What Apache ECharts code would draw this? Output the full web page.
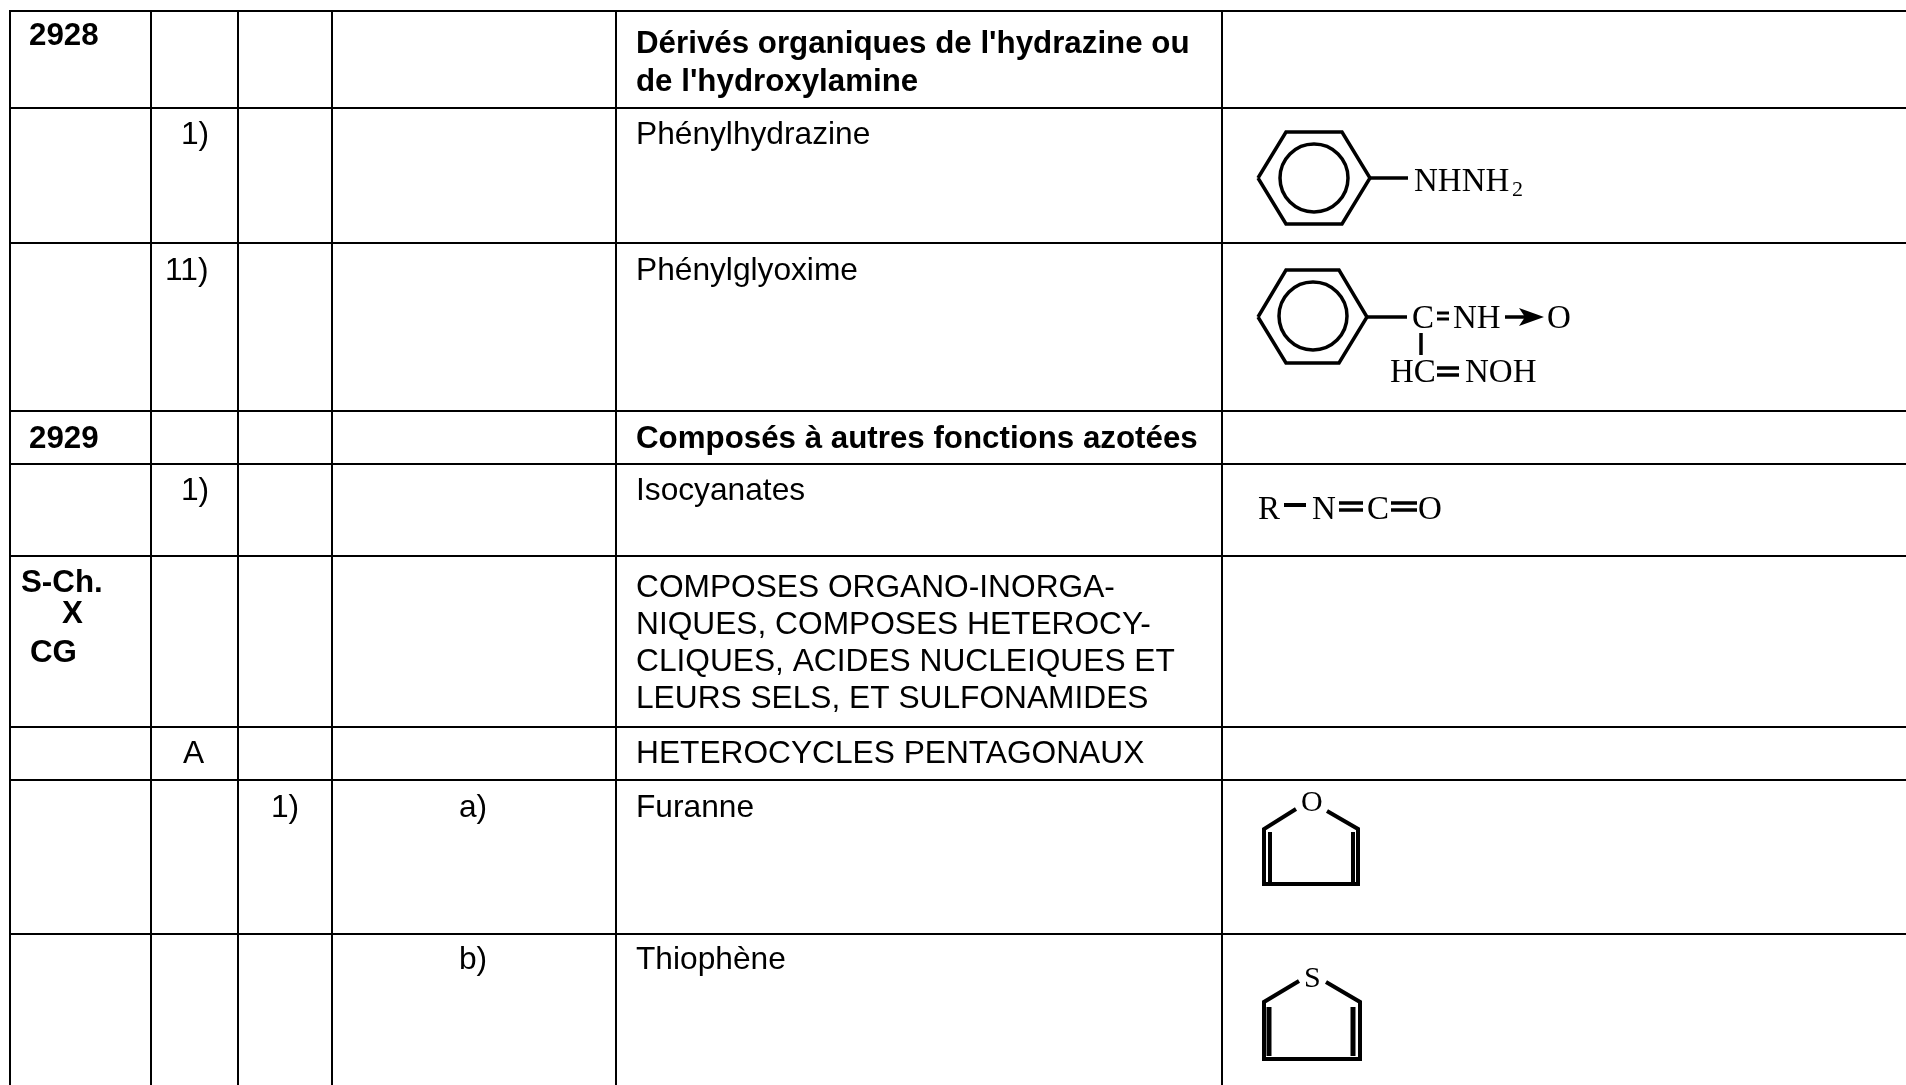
<!DOCTYPE html>
<html>
<head>
<meta charset="utf-8">
<title>2928 - 2929</title>
<script src="https://cdn.jsdelivr.net/npm/echarts@6/dist/echarts.min.js"></script>
<style>
html, body { margin: 0; padding: 0; background: #fff; }
#main { width: 1906px; height: 1085px; }
</style>
</head>
<body>
<div id="main"></div>
<script>
// table edges
var columnEdges = [10, 151, 238, 332, 616, 1222];
var rowEdges = [11, 108, 243, 411, 464, 556, 727, 780, 934];

// one entry per table row
var codes = ['2928', '', '', '2929', '', 'S-Ch.|X|CG', '', '', ''];
var levelOne = ['', '1)', '11)', '', '1)', '', 'A', '', ''];
var levelTwo = ['', '', '', '', '', '', '', '1)', ''];
var levelThree = ['', '', '', '', '', '', '', 'a)', 'b)'];
var names = [
    "Dérivés organiques de l'hydrazine ou|de l'hydroxylamine",
    'Phénylhydrazine',
    'Phénylglyoxime',
    'Composés à autres fonctions azotées',
    'Isocyanates',
    'COMPOSES ORGANO-INORGA-|NIQUES, COMPOSES HETEROCY-|CLIQUES, ACIDES NUCLEIQUES ET|LEURS SELS, ET SULFONAMIDES',
    'HETEROCYCLES PENTAGONAUX',
    'Furanne',
    'Thiophène'
];
var boldNames = [true, false, false, true, false, false, false, false, false];

var xMax = 1906, yMax = 1085;
var sansFont = '"Liberation Sans", Arial, sans-serif';
var serifFont = '"Liberation Serif", "Times New Roman", serif';

// ---- rules
var rules = [];
columnEdges.forEach(function (x) { rules.push([x, rowEdges[0] - 1, x, yMax]); });
rowEdges.forEach(function (y) { rules.push([columnEdges[0] - 1, y, xMax, y]); });

// ---- table text
var labels = [];
function addLabel(text, x, y, bold) {
    labels.push({ text: text, x: x, y: y, font: (bold ? 'bold 31.3px ' : '31.7px ') + sansFont });
}
function addSerif(text, x, y, size) {
    labels.push({ text: text, x: x, y: y, font: size + 'px ' + serifFont });
}
var codeX = [29, 0, 0, 29];
var levelOneX = [0, 181, 165, 0, 181, 0, 183];
var rowOffset = [25, 27, 28, 28, 27, 32, 27, 28, 26];
rowEdges.forEach(function (top, i) {
    var y = top + rowOffset[i];
    if (i === 5) {
        var parts = codes[i].split('|');
        addLabel(parts[0], 21, 583, true);
        addLabel(parts[1], 62, 614, true);
        addLabel(parts[2], 30, 653, true);
    } else if (codes[i]) {
        addLabel(codes[i], codeX[i], y, true);
    }
    if (levelOne[i]) addLabel(levelOne[i], levelOneX[i], y, false);
    if (levelTwo[i]) addLabel(levelTwo[i], 271, y, false);
    if (levelThree[i]) addLabel(levelThree[i], 459, y, false);
    var firstLine = i === 0 ? 44 : y;
    names[i].split('|').forEach(function (line, k) {
        addLabel(line, 636, firstLine + k * (i === 5 ? 37 : 38), boldNames[i]);
    });
});

// ---- formulas
addSerif('NHNH', 1414, 182, 33);
addSerif('2', 1512, 190, 22);
addSerif('C', 1412, 319, 33);
addSerif('NH', 1453, 319, 33);
addSerif('O', 1547, 319, 33);
addSerif('HC', 1390, 373, 33);
addSerif('NOH', 1465, 373, 33);
addSerif('R', 1258, 510, 33);
addSerif('N', 1312, 510, 33);
addSerif('C', 1367, 510, 33);
addSerif('O', 1418, 510, 33);
labels.push({ text: 'O', x: 1301, y: 803, font: '30px ' + serifFont });
labels.push({ text: 'S', x: 1304, y: 979, font: '30px ' + serifFont });

// bonds: points then stroke width
var bonds = [
    // phenylhydrazine
    { w: 3.5, pts: [[1258, 178], [1286, 132], [1342, 132], [1370, 178], [1342, 224], [1286, 224], [1258, 178]] },
    { w: 3.5, pts: [[1370, 178], [1408, 178]] },
    // phenylglyoxime
    { w: 3.5, pts: [[1258, 317], [1286, 270], [1339, 270], [1367, 317], [1339, 363], [1286, 363], [1258, 317]] },
    { w: 3.5, pts: [[1367, 317], [1407, 317]] },
    { w: 3, pts: [[1437, 313], [1449, 313]] },
    { w: 3, pts: [[1437, 319], [1449, 319]] },
    { w: 3.5, pts: [[1505, 317], [1526, 317]] },
    { w: 3.5, pts: [[1421, 333], [1421, 355]] },
    { w: 3.5, pts: [[1437, 368], [1459, 368]] },
    { w: 3.5, pts: [[1437, 375], [1459, 375]] },
    // isocyanate
    { w: 4, pts: [[1284, 505], [1306, 505]] },
    { w: 3.5, pts: [[1339, 503], [1363, 503]] },
    { w: 3.5, pts: [[1339, 510], [1363, 510]] },
    { w: 3.5, pts: [[1391, 503], [1417, 503]] },
    { w: 3.5, pts: [[1391, 510], [1417, 510]] },
    // furan
    { w: 4, pts: [[1296, 809], [1264, 829], [1264, 884], [1358, 884], [1358, 829], [1327, 811]] },
    { w: 4, pts: [[1270, 832], [1270, 882]] },
    { w: 4, pts: [[1353, 832], [1353, 882]] },
    // thiophene
    { w: 4, pts: [[1299, 981], [1264, 1002], [1264, 1059], [1360, 1059], [1360, 1002], [1326, 982]] },
    { w: 5, pts: [[1269, 1007], [1269, 1056]] },
    { w: 5, pts: [[1353, 1007], [1353, 1056]] }
];
var rings = [[1314, 178, 1348], [1313, 316, 1347]];
var arrowHeads = [[[1544, 317], [1519, 308], [1525, 317], [1519, 326]]];

function toPixels(api, pts) {
    return pts.map(function (p) { return api.coord(p); });
}

var option = {
    animation: false,
    backgroundColor: '#fff',
    grid: { left: 0, right: 0, top: 0, bottom: 0 },
    xAxis: { type: 'value', min: 0, max: xMax, show: false },
    yAxis: { type: 'value', min: 0, max: yMax, inverse: true, show: false },
    series: [
        {
            type: 'custom',
            coordinateSystem: 'cartesian2d',
            silent: true,
            clip: false,
            data: rules,
            renderItem: function (params, api) {
                var a = api.coord([api.value(0), api.value(1)]);
                var b = api.coord([api.value(2), api.value(3)]);
                return {
                    type: 'line',
                    shape: { x1: a[0], y1: a[1], x2: b[0], y2: b[1] },
                    style: { stroke: '#000', lineWidth: 2 }
                };
            }
        },
        {
            type: 'custom',
            coordinateSystem: 'cartesian2d',
            silent: true,
            data: bonds.map(function (b, i) { return [i, 0]; }),
            renderItem: function (params, api) {
                var bond = bonds[params.dataIndex];
                return {
                    type: 'polyline',
                    shape: { points: toPixels(api, bond.pts) },
                    style: { stroke: '#000', fill: null, lineWidth: bond.w, lineJoin: 'miter' }
                };
            }
        },
        {
            type: 'custom',
            coordinateSystem: 'cartesian2d',
            silent: true,
            data: rings,
            renderItem: function (params, api) {
                var c = api.coord([api.value(0), api.value(1)]);
                var edge = api.coord([api.value(2), api.value(1)]);
                return {
                    type: 'circle',
                    shape: { cx: c[0], cy: c[1], r: edge[0] - c[0] },
                    style: { stroke: '#000', fill: null, lineWidth: 3.5 }
                };
            }
        },
        {
            type: 'custom',
            coordinateSystem: 'cartesian2d',
            silent: true,
            data: arrowHeads.map(function (a, i) { return [i, 0]; }),
            renderItem: function (params, api) {
                return {
                    type: 'polygon',
                    shape: { points: toPixels(api, arrowHeads[params.dataIndex]) },
                    style: { fill: '#000' }
                };
            }
        },
        {
            type: 'custom',
            coordinateSystem: 'cartesian2d',
            silent: true,
            data: labels.map(function (l, i) { return [i, 0]; }),
            renderItem: function (params, api) {
                var l = labels[params.dataIndex];
                var p = api.coord([l.x, l.y]);
                return {
                    type: 'text',
                    style: {
                        text: l.text, x: p[0], y: p[1], font: l.font, fill: '#000',
                        align: 'left', verticalAlign: 'middle'
                    }
                };
            }
        }
    ]
};

var myChart = echarts.init(document.getElementById('main'), null, { renderer: 'canvas' });
myChart.setOption(option);
</script>
</body>
</html>
